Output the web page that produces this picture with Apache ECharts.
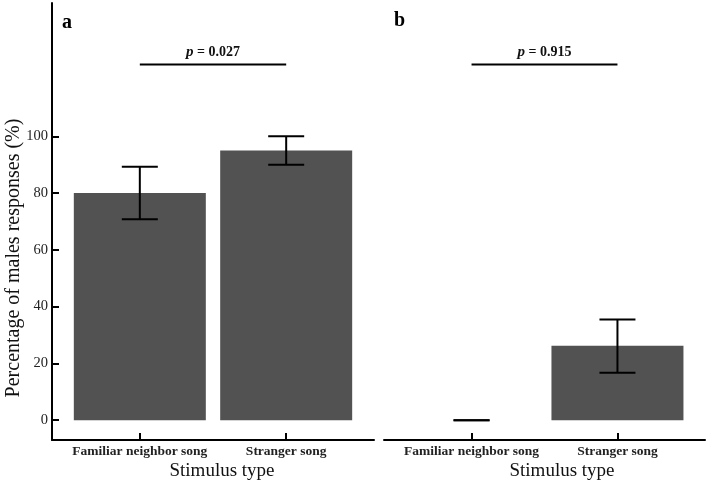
<!DOCTYPE html>
<html><head><meta charset="utf-8">
<script src="https://cdn.jsdelivr.net/npm/echarts@6/dist/echarts.min.js"></script>
<style>html,body{margin:0;padding:0;background:#fff}#c{width:709px;height:487px}</style>
</head><body><div id="c"></div>
<script>
// ---- data ----
const categories = ['Familiar neighbor song', 'Stranger song'];
const positions = [1, 2];
const valuesA = [80, 95];
const errLowA = [70.8, 90];
const errHighA = [89.3, 100];
const valuesB = [0, 26.2];
const errLowB = [0, 16.7];
const errHighB = [0, 35.5];
const yTicks = [0, 20, 40, 60, 80, 100];
const sigFrom = [1, 1];
const sigTo = [2, 2];
const sigLevel = [125.3, 125.3];
const pValues = ['0.027', '0.915'];
const panelLabels = ['a', 'b'];

const FONT = "'Liberation Serif', 'DejaVu Serif', serif";
const BAR = '#525252';

function errItem(params, api) {
  const x = api.value(0), lo = api.value(1), hi = api.value(2);
  const pLo = api.coord([x, lo]), pHi = api.coord([x, hi]);
  const w = 18;
  const st = { stroke: '#000', lineWidth: 2 };
  return { type: 'group', children: [
    { type: 'line', shape: { x1: pLo[0], y1: pLo[1], x2: pHi[0], y2: pHi[1] }, style: st },
    { type: 'line', shape: { x1: pLo[0] - w, y1: pLo[1], x2: pLo[0] + w, y2: pLo[1] }, style: st },
    { type: 'line', shape: { x1: pHi[0] - w, y1: pHi[1], x2: pHi[0] + w, y2: pHi[1] }, style: st }
  ]};
}
function sigItemFor(pv) {
  return function (params, api) {
    const a = api.coord([api.value(0), api.value(2)]);
    const b = api.coord([api.value(1), api.value(2)]);
    return { type: 'group', children: [
      { type: 'line', shape: { x1: a[0], y1: a[1], x2: b[0], y2: b[1] }, style: { stroke: '#000', lineWidth: 2 } },
      { type: 'text', style: {
          x: (a[0] + b[0]) / 2, y: a[1] - 5, align: 'center', verticalAlign: 'bottom',
          text: '{i|p}{n| = ' + pv + '}',
          rich: {
            i: { fontFamily: FONT, fontStyle: 'italic', fontWeight: 'bold', fontSize: 15, fill: '#111' },
            n: { fontFamily: FONT, fontWeight: 'bold', fontSize: 14, fill: '#111' }
          }
      } }
    ]};
  };
}

function xAxisFor(gi) {
  return {
    type: 'value', gridIndex: gi, min: 0.4, max: 2.6,
    splitLine: { show: false },
    axisLine: { show: true, onZero: false, lineStyle: { color: '#000', width: 2 } },
    axisTick: { show: true, inside: true, length: 7, customValues: positions, lineStyle: { color: '#000', width: 2 } },
    axisLabel: { customValues: positions, formatter: v => categories[Math.round(v) - 1] || '',
      margin: 5, fontFamily: FONT, fontSize: 13.5, fontWeight: 'bold', color: '#222' }
  };
}
function yAxisFor(gi, show) {
  return {
    type: 'value', gridIndex: gi, min: -7, max: 147, show: show,
    splitLine: { show: false },
    axisLine: { show: true, onZero: false, lineStyle: { color: '#000', width: 2 } },
    axisTick: { show: true, inside: true, length: 7, customValues: yTicks, lineStyle: { color: '#000', width: 2 } },
    axisLabel: { customValues: yTicks, margin: 4, fontFamily: FONT, fontSize: 14.5, color: '#222' }
  };
}

const chart = echarts.init(document.getElementById('c'), null, { renderer: 'canvas' });
chart.setOption({
  animation: false,
  backgroundColor: '#fff',
  grid: [
    { left: 52, right: 335, top: 3, bottom: 47 },
    { left: 384, right: 4, top: 3, bottom: 47 }
  ],
  xAxis: [xAxisFor(0), xAxisFor(1)],
  yAxis: [yAxisFor(0, true), yAxisFor(1, false)],
  graphic: [
    { type: 'text', left: 62, top: 13, style: { text: panelLabels[0], font: 'bold 20px ' + FONT, fill: '#000' } },
    { type: 'text', left: 394, top: 11, style: { text: panelLabels[1], font: 'bold 20px ' + FONT, fill: '#000' } },
    { type: 'text', x: 222, y: 471, style: { text: 'Stimulus type', align: 'center', verticalAlign: 'middle', font: '19px ' + FONT, fill: '#111' } },
    { type: 'text', x: 562, y: 471, style: { text: 'Stimulus type', align: 'center', verticalAlign: 'middle', font: '19px ' + FONT, fill: '#111' } },
    { type: 'text', x: 14, y: 258, rotation: Math.PI / 2, style: { text: 'Percentage of males responses (%)', align: 'center', verticalAlign: 'middle', font: '20px ' + FONT, fill: '#111' } }
  ],
  series: [
    { type: 'bar', xAxisIndex: 0, yAxisIndex: 0, barWidth: 132,
      itemStyle: { color: BAR }, data: positions.map((p, i) => [p, valuesA[i]]) },
    { type: 'custom', xAxisIndex: 0, yAxisIndex: 0, z: 5, renderItem: errItem,
      encode: { x: 0, y: [1, 2] }, data: positions.map((p, i) => [p, errLowA[i], errHighA[i]]) },
    { type: 'custom', xAxisIndex: 0, yAxisIndex: 0, z: 5, renderItem: sigItemFor(pValues[0]),
      encode: { x: [0, 1], y: 2 }, data: [[sigFrom[0], sigTo[0], sigLevel[0]]] },
    { type: 'bar', xAxisIndex: 1, yAxisIndex: 1, barWidth: 132,
      itemStyle: { color: BAR }, data: positions.map((p, i) => [p, valuesB[i]]) },
    { type: 'custom', xAxisIndex: 1, yAxisIndex: 1, z: 5, renderItem: errItem,
      encode: { x: 0, y: [1, 2] }, data: positions.map((p, i) => [p, errLowB[i], errHighB[i]]) },
    { type: 'custom', xAxisIndex: 1, yAxisIndex: 1, z: 5, renderItem: sigItemFor(pValues[1]),
      encode: { x: [0, 1], y: 2 }, data: [[sigFrom[1], sigTo[1], sigLevel[1]]] }
  ]
});
</script>
</body></html>
